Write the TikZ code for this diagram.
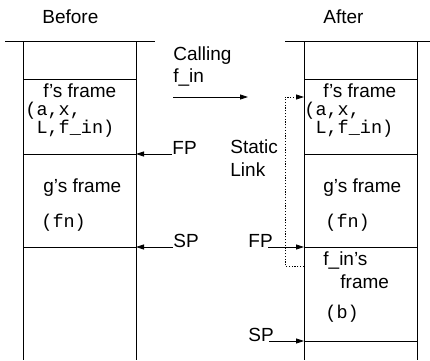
\documentclass[tikz,border=0pt]{standalone}
\usepackage{fontspec}
\setmainfont{Liberation Sans}
\setmonofont{Liberation Mono}
\usetikzlibrary{arrows.meta}
\begin{document}
\begin{tikzpicture}[x=1pt,y=-1pt,line width=0.8pt,
  txt/.style={anchor=base west,inner sep=0pt,font=\fontsize{19}{22}\selectfont},
  code/.style={anchor=base west,inner sep=0pt,font=\ttfamily\fontsize{18.5}{22}\selectfont},
  ptr/.style={-{Triangle[length=8pt,width=5pt]}},
  link/.style={dash pattern=on 1.2pt off 1.6pt}]
\useasboundingbox (0,0) rectangle (430,360);
% ---- Before stack ----
\draw (5,41) -- (155,41);
\draw (23,41) -- (23,360);
\draw (136,41) -- (136,360);
\draw (23,79) -- (136,79);
\draw (23,154) -- (136,154);
\draw (23,247) -- (136,247);
\coordinate (bFP) at (136,154);
\coordinate (bSP) at (136,247);
% ---- After stack ----
\draw (285,41) -- (430,41);
\draw (304,41) -- (304,360);
\draw (417,41) -- (417,360);
\draw (304,79) -- (417,79);
\draw (304,154) -- (417,154);
\draw (304,247) -- (417,247);
\draw (304,341) -- (417,341);
\coordinate (aFP) at (304,247);
\coordinate (aSP) at (304,341);
% ---- titles ----
\node[txt] (before) at (42,23) {Before};
\node[txt] (after) at (323,23) {After};
% ---- before frames ----
\node[txt] (bf) at (43,97) {f’s frame};
\node[code] (bfa) at (25,115) {(a,x,};
\node[code] (bfb) at (25,133) {\ L,f\_in)};
\node[txt] (bg) at (43,192) {g’s frame};
\node[code] (bgn) at (41,227) {(fn)};
% ---- after frames ----
\node[txt] (af) at (323,97) {f’s frame};
\node[code] (afa) at (304,115) {(a,x,};
\node[code] (afb) at (304,133) {\ L,f\_in)};
\node[txt] (ag) at (323,192) {g’s frame};
\node[code] (agn) at (325,227) {(fn)};
\node[txt] (ai) at (323,265) {f\_in’s};
\node[txt] (ai2) at (340,288) {frame};
\node[code] (ab) at (325,318) {(b)};
% ---- pointers ----
\node[txt] (fpB) at (172,154) {FP};
\node[txt] (spB) at (173,247) {SP};
\draw[ptr] (fpB.base west) -- (bFP);
\draw[ptr] (spB.base west) -- (bSP);
\node[txt] (fpA) at (248,247) {FP};
\node[txt] (spA) at (248,341) {SP};
\draw[ptr] ([xshift=-5pt]fpA.base east) -- (aFP);
\draw[ptr] ([xshift=-5pt]spA.base east) -- (aSP);
% ---- calling ----
\node[txt] (call1) at (173,60) {Calling};
\node[txt] (call2) at (173,82) {f\_in};
\coordinate (callA) at (173,97);
\coordinate (callB) at (248,97);
\draw[ptr] (callA) -- (callB);
% ---- static link ----
\node[txt] (st1) at (230,153) {Static};
\node[txt] (st2) at (230,176) {Link};
\coordinate (slEnd) at (304,266);
\coordinate (slBot) at (285,266);
\coordinate (slTop) at (285,97);
\coordinate (slTip) at (304,97);
\draw[link,ptr] (slEnd) -- (slBot) -- (slTop) -- (slTip);
\end{tikzpicture}
\end{document}
